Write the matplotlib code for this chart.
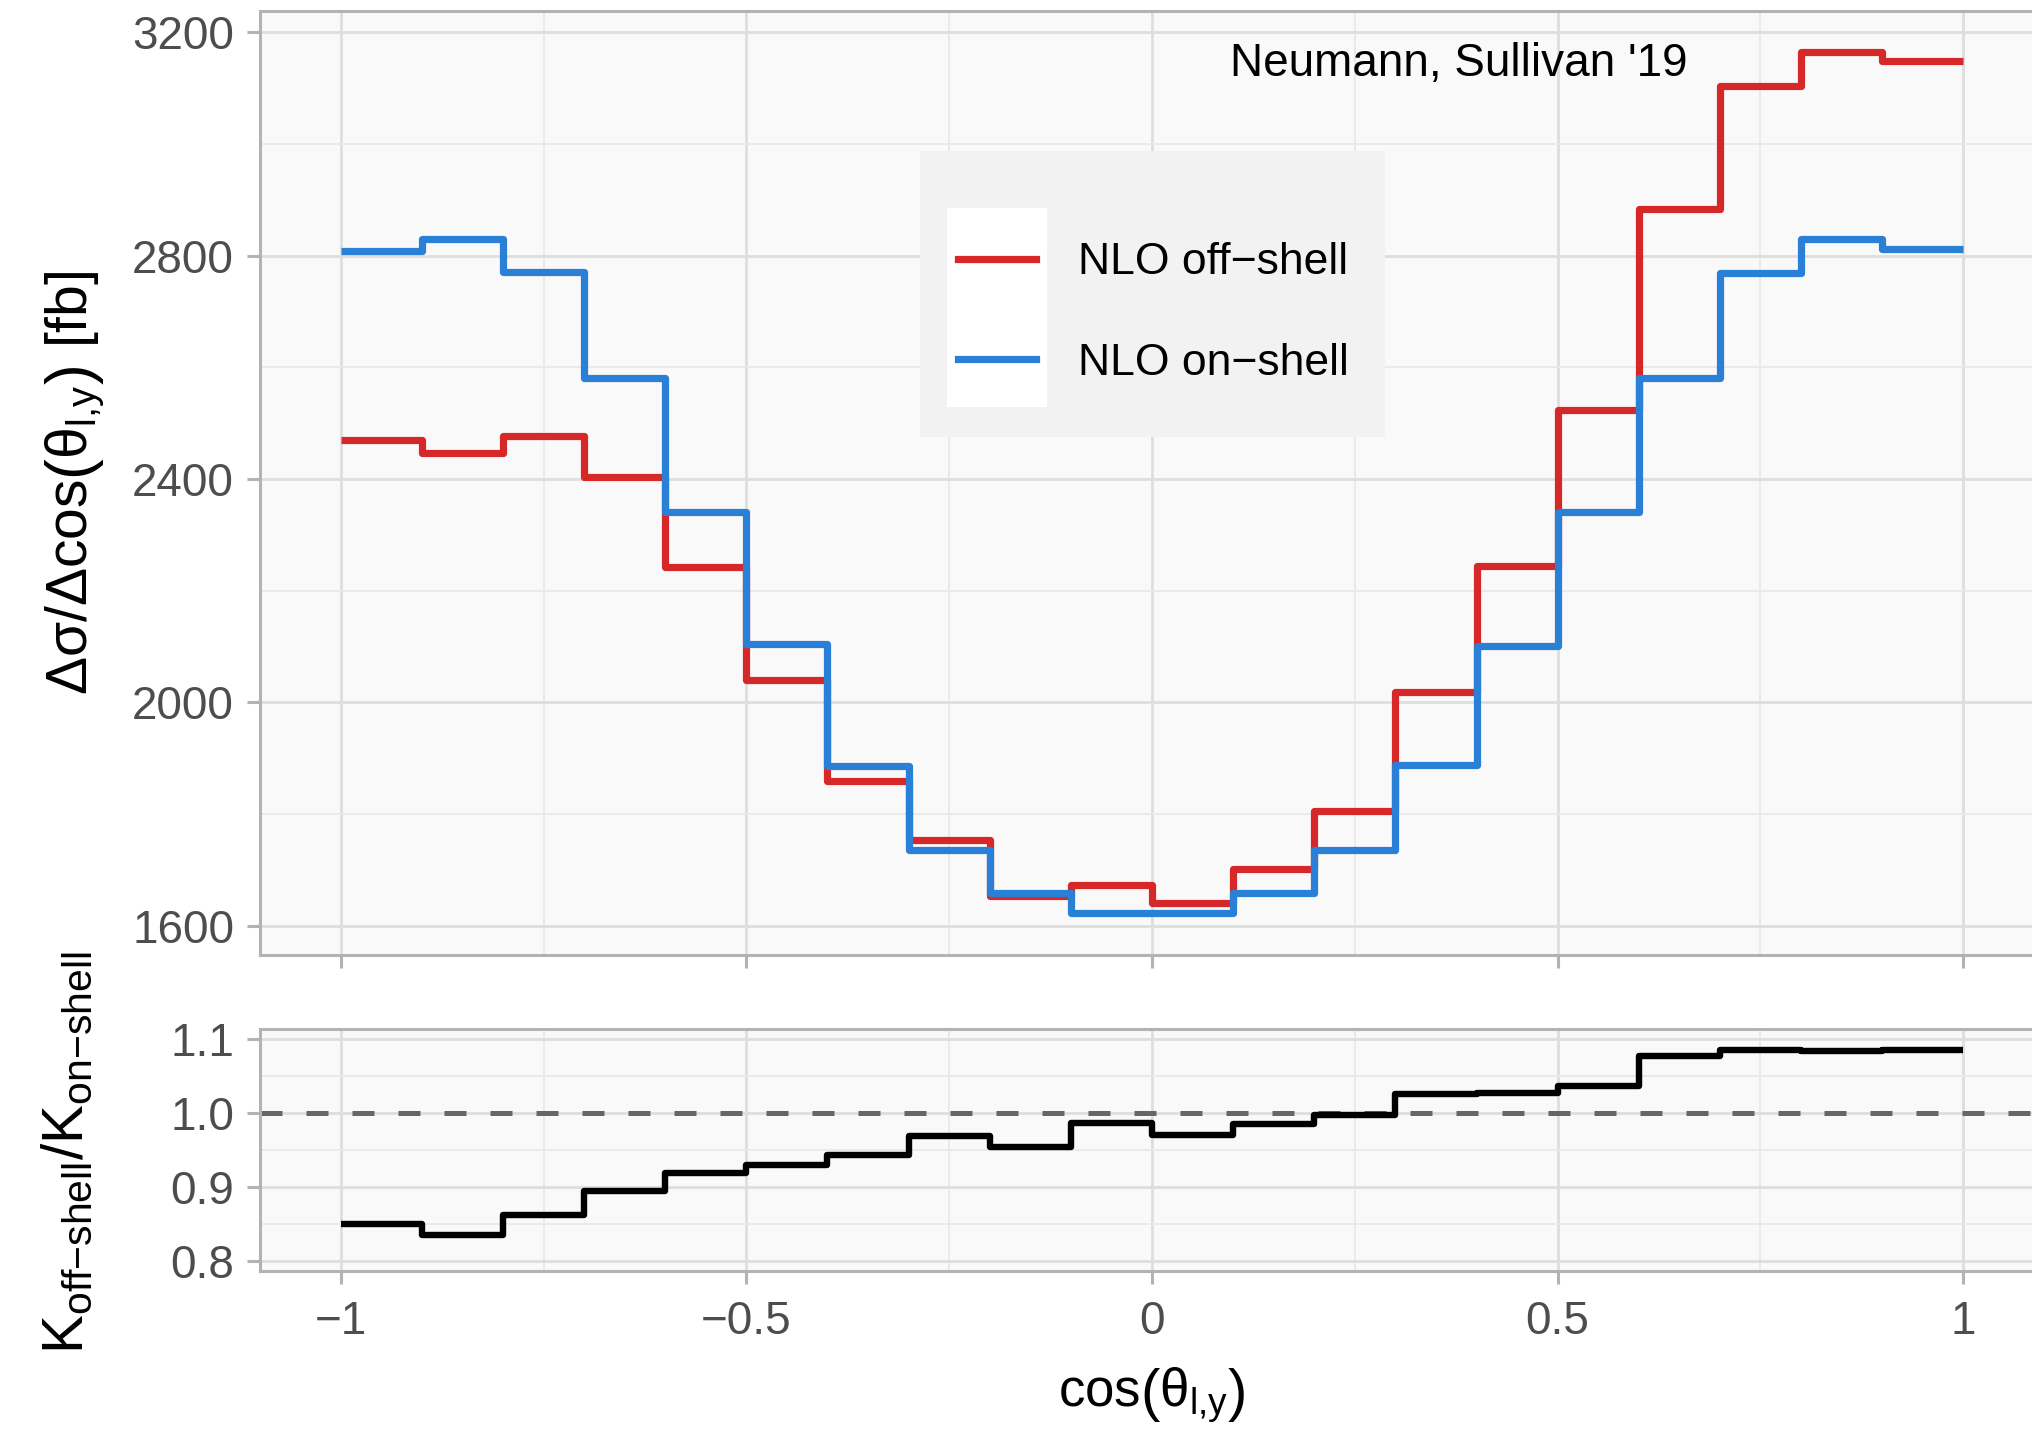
import matplotlib
matplotlib.use("Agg")
import matplotlib.pyplot as plt
from matplotlib.patches import Rectangle
from matplotlib.mathtext import MathTextParser

# ---------------- data ----------------
bin_edges = [-1.0, -0.9, -0.8, -0.7, -0.6, -0.5, -0.4, -0.3, -0.2, -0.1, 0.0,
             0.1, 0.2, 0.3, 0.4, 0.5, 0.6, 0.7, 0.8, 0.9, 1.0]
nlo_off_shell = [2470, 2446, 2477, 2404, 2242, 2040, 1859, 1754, 1652, 1672,
                 1640, 1702, 1806, 2018, 2244, 2523, 2883, 3104, 3164, 3149]
nlo_on_shell = [2809, 2829, 2770, 2581, 2340, 2105, 1886, 1735, 1658, 1622,
                1622, 1659, 1736, 1887, 2101, 2341, 2581, 2768, 2829, 2812]
k_ratio = [0.850, 0.836, 0.863, 0.895, 0.920, 0.930, 0.943, 0.969, 0.954, 0.987,
           0.970, 0.985, 0.998, 1.026, 1.027, 1.037, 1.077, 1.085, 1.084, 1.086]
series_labels = ["NLO off\u2212shell", "NLO on\u2212shell"]
x_ticks = [-1, -0.5, 0, 0.5, 1]
x_ticklabels = ["\u22121", "\u22120.5", "0", "0.5", "1"]
x_minor = [-0.75, -0.25, 0.25, 0.75]
y_ticks_top = [1600, 2000, 2400, 2800, 3200]
y_minor_top = [1800, 2200, 2600, 3000]
y_ticks_bot = [0.8, 0.9, 1.0, 1.1]
y_ticklabels_bot = ["0.8", "0.9", "1.0", "1.1"]
y_minor_bot = [0.85, 0.95, 1.05]
annotation = "Neumann, Sullivan '19"

# ---------------- style ----------------
plt.rcParams['font.family'] = ['Liberation Sans', 'DejaVu Sans']
plt.rcParams['mathtext.fontset'] = 'custom'
plt.rcParams['mathtext.rm'] = 'Liberation Sans'
plt.rcParams['mathtext.it'] = 'Liberation Sans:italic'
plt.rcParams['mathtext.bf'] = 'Liberation Sans:bold'
plt.rcParams['mathtext.sf'] = 'Liberation Sans'
plt.rcParams['mathtext.default'] = 'regular'


def pick_math(candidates):
    parser = MathTextParser('agg')
    for c in candidates:
        try:
            parser.parse(c, dpi=100)
            return c
        except Exception:
            continue
    return candidates[-1]


ylab_top = pick_math([
    r"$\Delta\sigma/\Delta\mathrm{cos}\left(\vphantom{X^{X}_{X}}\theta_{l{,}y}\right)$ [fb]",
    r"$\Delta\sigma/\Delta\mathrm{cos}\left(\theta_{l{,}y}\right)$ [fb]",
])
xlab = pick_math([
    r"$\mathrm{cos}\left(\vphantom{X^{X}_{X}}\theta_{l{,}y}\right)$",
    r"$\mathrm{cos}\left(\theta_{l{,}y}\right)$",
])
ylab_bot = r"$K_{off{-}shell}/K_{on{-}shell}$"

RED = "#D62828"
BLUE = "#2A80D6"
PANEL = "#F9F9F9"
GRID_MAJ = "#DEDEDE"
GRID_MIN = "#E9E9E9"
BORDER = "#B3B3B3"
TICKTXT = "#4D4D4D"

fig = plt.figure(figsize=(20.32, 14.33), dpi=100)
W, H = 2032.0, 1433.0
left = 259.6 / W
width = (2044.4 - 259.6) / W
ax1 = fig.add_axes([left, (H - 955) / H, width, (955 - 11) / H])
ax2 = fig.add_axes([left, (H - 1271.3) / H, width, (1271.3 - 1029.3) / H])


def style_axes(ax):
    ax.set_facecolor(PANEL)
    for s in ax.spines.values():
        s.set_color(BORDER)
        s.set_linewidth(2.2)
    ax.set_xlim(-1.1, 1.1)
    ax.set_xticks(x_ticks)
    ax.set_xticks(x_minor, minor=True)
    ax.grid(True, which='major', color=GRID_MAJ, linewidth=2.0, zorder=0)
    ax.grid(True, which='minor', color=GRID_MIN, linewidth=1.3, zorder=0)
    ax.set_axisbelow(True)
    ax.tick_params(which='major', length=9.4, width=2.2, color=BORDER,
                   labelsize=33, labelcolor=TICKTXT, pad=9)
    ax.tick_params(which='minor', length=0)


style_axes(ax1)
style_axes(ax2)

# top panel
ax1.set_ylim(1547.2, 3238.2)
ax1.set_yticks(y_ticks_top)
ax1.set_yticks(y_minor_top, minor=True)
ax1.tick_params(axis='x', labelbottom=False)
s_off = ax1.stairs(nlo_off_shell, bin_edges, baseline=None, color=RED,
                   linewidth=5.2, label=series_labels[0], zorder=3)
s_on = ax1.stairs(nlo_on_shell, bin_edges, baseline=None, color=BLUE,
                  linewidth=5.2, label=series_labels[1], zorder=4)
for s in (s_off, s_on):
    s.set_joinstyle('round')
    s.set_capstyle('butt')
ax1.set_ylabel(ylab_top, fontsize=41, va='center')
ax1.yaxis.set_label_coords(-0.1034, 0.5)
ax1.text(0.672, 0.9311, annotation, transform=ax1.transAxes, ha='center',
         va='baseline', fontsize=33, color='black')

# bottom panel
ax2.set_ylim(0.7865, 1.1135)
ax2.set_yticks(y_ticks_bot)
ax2.set_yticklabels(y_ticklabels_bot)
ax2.set_yticks(y_minor_bot, minor=True)
ax2.set_xticklabels(x_ticklabels)
ax2.tick_params(axis='x', pad=11)
ax2.axhline(1.0, color="#666666", linewidth=3.6, linestyle=(0, (4.4, 4.8)),
            zorder=2)
s_k = ax2.stairs(k_ratio, bin_edges, baseline=None, color='black',
                 linewidth=4.6, zorder=3)
s_k.set_joinstyle('round')
s_k.set_capstyle('butt')
ax2.set_ylabel(ylab_bot, fontsize=42, va='center')
ax2.yaxis.set_label_coords(-0.1073, 0.489)
ax2.set_xlabel(xlab, fontsize=38, va='center')
ax2.xaxis.set_label_coords(0.5, -0.511)

# legend (ggplot-like box with white key background)
fig.add_artist(Rectangle((919.6 / W, 1 - 436.7 / H), (1385 - 919.6) / W,
                         (436.7 - 151) / H, transform=fig.transFigure,
                         facecolor="#F2F2F2", edgecolor='none', zorder=2))
fig.add_artist(Rectangle((947 / W, 1 - 407 / H), (1047 - 947) / W,
                         (407 - 208) / H, transform=fig.transFigure,
                         facecolor="white", edgecolor='none', zorder=3))
fig.legend(handles=[s_off, s_on], labels=series_labels, loc='center left',
           bbox_to_anchor=(958 / W, 1 - 313 / H), bbox_transform=fig.transFigure,
           frameon=False, fontsize=32, handlelength=1.75, handletextpad=0.94,
           labelspacing=1.33, borderpad=0, borderaxespad=0)

fig.savefig("out.png", dpi=100)
